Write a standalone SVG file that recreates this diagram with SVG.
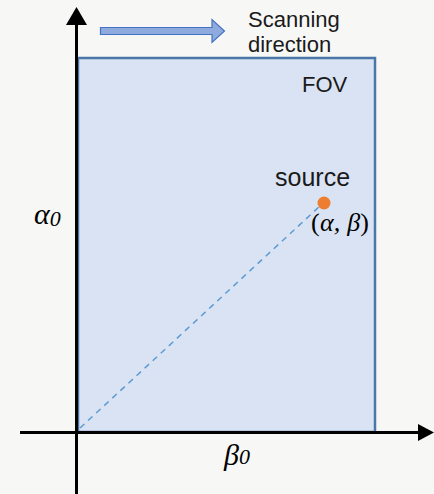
<svg xmlns="http://www.w3.org/2000/svg" width="434" height="494" viewBox="0 0 434 494">
<style>
.lbl{font-family:"Liberation Sans",Arial,sans-serif;font-size:22px;fill:#1a1a1a}
.src{font-size:25px}
.math{font-family:"Liberation Serif","Times New Roman",serif;font-style:italic;fill:#000}
.axis{stroke:#000;stroke-width:3;fill:none}
</style>
<rect x="0" y="0" width="434" height="494" fill="#f7f7f6"/>
<g id="fov">
<rect x="78" y="58" width="297" height="374" fill="#dae3f3" stroke="#4a76a8" stroke-width="2.5"/>
<text class="lbl" x="302" y="92">FOV</text>
</g>
<g id="connectors">
<line x1="80" y1="428" x2="320" y2="206" stroke="#5b9bd5" stroke-width="1.5" stroke-dasharray="6,5"/>
<line class="axis" x1="76.5" y1="24" x2="76.5" y2="494"/>
<polygon points="66,25 76.5,7 87,25" fill="#000"/>
<line class="axis" x1="20" y1="432.5" x2="420" y2="432.5"/>
<polygon points="418,424 434,432.5 418,441" fill="#000"/>
</g>
<g id="scan">
<polygon points="100.5,27.5 212,27.5 212,19.5 224.5,31 212,42.5 212,34.5 100.5,34.5" fill="#8faadc" stroke="#4472c4" stroke-width="1.2"/>
<text class="lbl" x="248" y="27">Scanning</text>
<text class="lbl" x="248" y="52">direction</text>
</g>
<g id="source">
<circle cx="324" cy="203" r="6.5" fill="#ed7d31"/>
<text class="lbl src" x="275" y="186">source</text>
<text class="math" x="311" y="231" font-size="26" textLength="58"><tspan font-style="normal">(</tspan>α, β<tspan font-style="normal">)</tspan></text>
</g>
<g id="alpha0">
<text class="math" x="34" y="224" font-size="30">α<tspan font-size="22" dy="2">0</tspan></text>
</g>
<g id="beta0">
<text class="math" x="224" y="465" font-size="30">β<tspan font-size="22" dy="-1">0</tspan></text>
</g>
</svg>
